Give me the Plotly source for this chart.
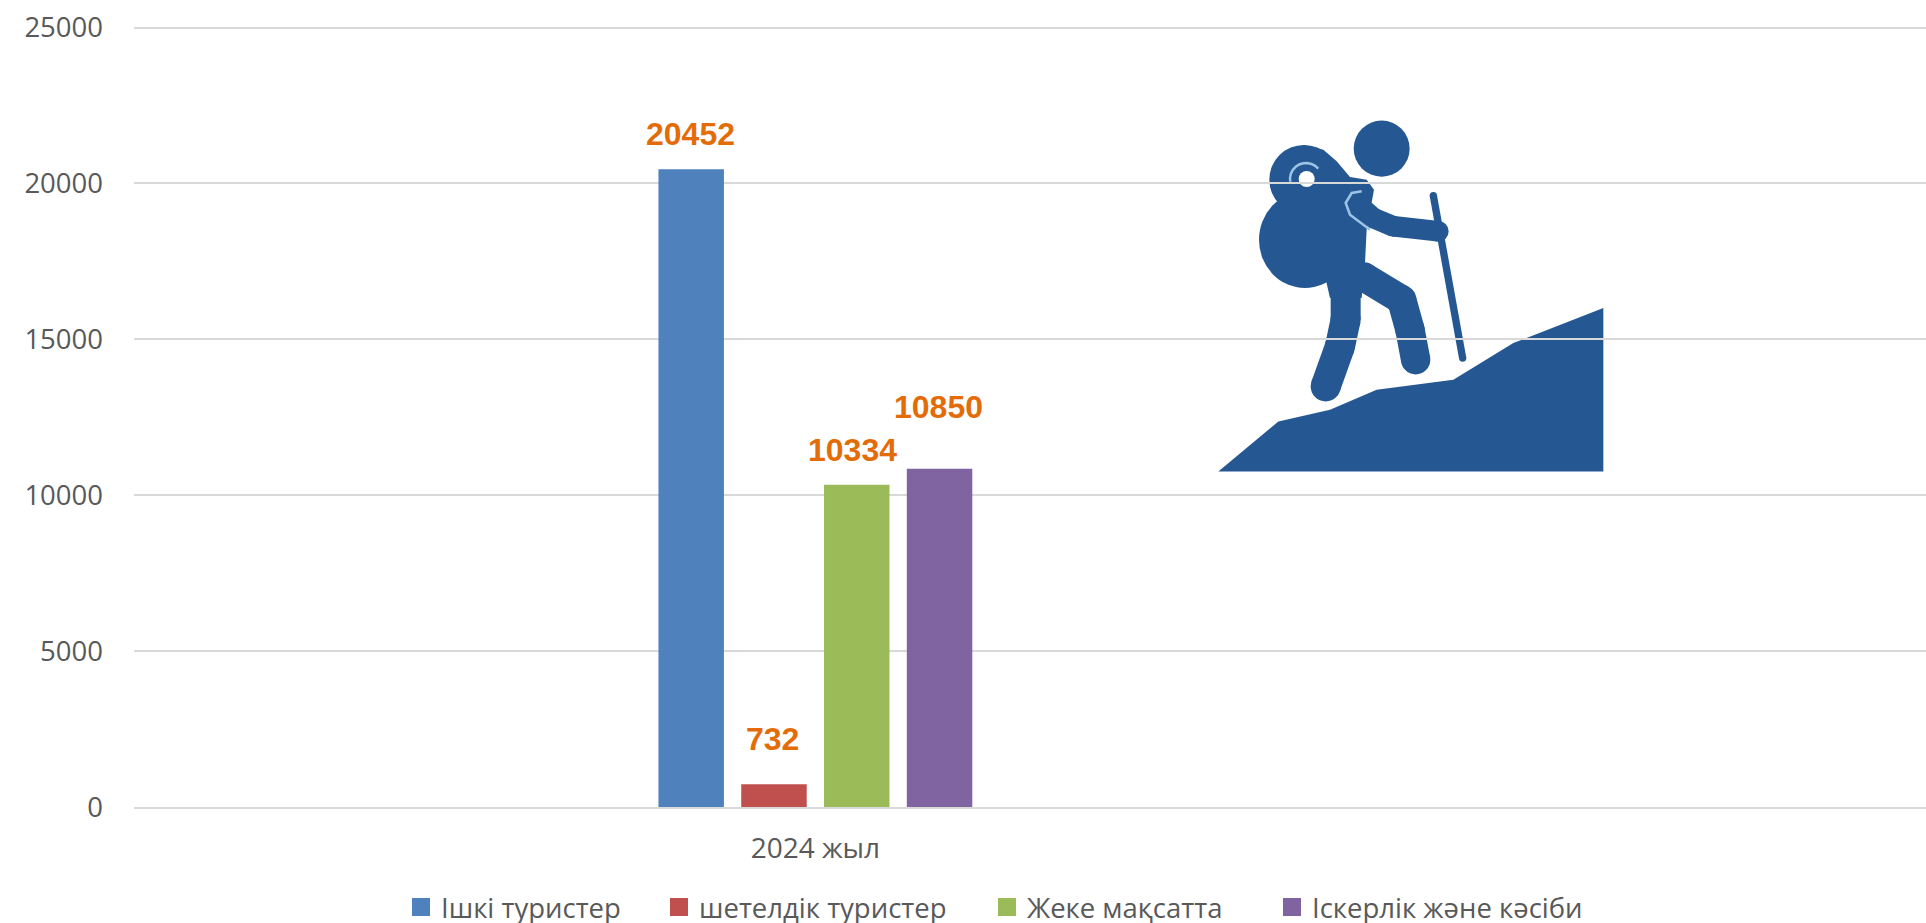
import math
import plotly.graph_objects as go

categories = ["2024 жыл"]
series_names = ["Ішкі туристер", "шетелдік туристер", "Жеке мақсатта", "Іскерлік және кәсіби"]
series_values = [20452, 732, 10334, 10850]
series_colors = ["#4F81BD", "#C0504D", "#9BBB59", "#8064A2"]
label_shifts = [(-125, 35), (-43, 45), (37, 35), (123, 62)]
y_ticks = [0, 5000, 10000, 15000, 20000, 25000]
legend_text_starts = [441, 699, 1027, 1312]

W, H = 1926, 923
L, R, T, B = 134, 0, 26.44, 116
PW, PH = W - L - R, H - T - B
ICON = "#255892"
LIGHT = "#9DC3E6"
TXT = "#595959"
FONT = "Open Sans"
BOLD = "Liberation Sans"


def px(zx, zy):
    """Crop coordinates of the pictogram to paper coordinates."""
    return ((1180 + zx / 3 - L) / PW, (H - B - (90 + zy / 3)) / PH)


def path_of(points):
    d = ""
    for i, (x, y) in enumerate(points):
        a, b = px(x, y)
        d += f"{'M' if i == 0 else 'L'}{a:.5f},{b:.5f} "
    return d


def poly(points, fill=ICON):
    return dict(type="path", path=path_of(points) + "Z", xref="paper", yref="paper", layer="below",
                fillcolor=fill, line=dict(width=0))


def outline(points, color=LIGHT, lw=2.5):
    return dict(type="path", path=path_of(points), xref="paper", yref="paper", layer="below",
                line=dict(width=lw, color=color))


def circle(cx, cy, rx, ry=None, fill=ICON):
    ry = rx if ry is None else ry
    x0, y0 = px(cx - rx, cy + ry)
    x1, y1 = px(cx + rx, cy - ry)
    return dict(type="circle", xref="paper", yref="paper", layer="below", x0=x0, y0=y0, x1=x1, y1=y1,
                fillcolor=fill, line=dict(width=0))


def stroke(points, w):
    out = []
    for (x0, y0), (x1, y1) in zip(points, points[1:]):
        n = math.hypot(x1 - x0, y1 - y0)
        ox, oy = -(y1 - y0) / n * w / 2, (x1 - x0) / n * w / 2
        out.append(poly([(x0 + ox, y0 + oy), (x1 + ox, y1 + oy), (x1 - ox, y1 - oy), (x0 - ox, y0 - oy)]))
    out += [circle(x, y, w / 2) for x, y in points]
    return out


arc = [(378 + 48 * math.cos(math.radians(a)), 268 - 48 * math.sin(math.radians(a))) for a in range(40, 205, 15)]

icon = [poly([(115, 1145), (295, 995), (450, 960), (590, 900), (820, 870), (1000, 760), (1270, 655), (1270, 1145)])]
icon += [circle(605, 177, 84), circle(375, 450, 138, 145), circle(372, 270, 104)]
icon += [poly([(370, 166), (430, 180), (470, 215), (510, 262), (560, 270), (582, 300), (560, 420), (555, 520),
               (545, 625), (450, 625), (410, 450), (340, 330)])]
icon += stroke([(497, 600), (497, 690), (480, 770), (437, 890)], 90)
icon += stroke([(552, 562), (665, 630), (690, 720), (707, 810)], 88)
icon += [outline(arc), circle(380, 268, 24, fill="#FFFFFF")]
icon += stroke([(535, 345), (580, 385), (640, 410), (775, 425)], 62)
icon += [outline([(545, 305), (515, 310), (497, 340), (510, 375), (570, 420)])]
icon += stroke([(760, 318), (848, 805)], 22)

fig = go.Figure()
for name, value, color in zip(series_names, series_values, series_colors):
    fig.add_bar(name=name, x=categories, y=[value], marker=dict(color=color, line=dict(width=0)), showlegend=False)

# Each legend entry has its own legend so the unequal gaps of the reference can be kept.
legends = {}
for i, (name, color, start) in enumerate(zip(series_names, series_colors, legend_text_starts)):
    key = "legend" if i == 0 else f"legend{i + 1}"
    fig.add_scatter(name=name, x=[None], y=[None], mode="markers", legend=key, showlegend=True,
                    marker=dict(symbol="square", size=16, color=color, line=dict(width=2, color=color)))
    legends[key] = dict(x=(start - 40 - L) / PW, y=(H - B - 907) / PH,
                        xanchor="left", yanchor="middle", itemwidth=30, bgcolor="rgba(0,0,0,0)",
                        font=dict(family=FONT, size=27.5, color=TXT))

annotations = [
    dict(x=0, y=v, xref="x", yref="y", text=str(v), showarrow=False, xshift=dx, yshift=dy,
         yanchor="middle", font=dict(family=BOLD, size=32, color="#E36C09", weight=700))
    for v, (dx, dy) in zip(series_values, label_shifts)
]

fig.update_layout(
    width=W, height=H, margin=dict(l=L, r=R, t=T, b=B, pad=0, autoexpand=False),
    paper_bgcolor="#FFFFFF", plot_bgcolor="#FFFFFF",
    barmode="group", bargap=0.757, bargroupgap=0.209,
    font=dict(family=FONT, size=26, color=TXT),
    shapes=icon, annotations=annotations,
    xaxis=dict(type="category", range=[-0.5, 0.815], showgrid=False, showline=True, linecolor="#D9D9D9",
               linewidth=2, ticks="", tickfont=dict(family=FONT, size=28, color=TXT), ticklabelstandoff=15),
    yaxis=dict(range=[0, 25050], tickvals=y_ticks, tickformat="d", showgrid=True, gridcolor="#D9D9D9",
               gridwidth=2, zeroline=False, showline=False, ticks="",
               tickfont=dict(family=FONT, size=27.5, color=TXT), ticklabelstandoff=30),
    **legends,
)

fig.write_html("out.html", config={"displayModeBar": False},
               post_script="document.body.style.margin='0';document.body.style.overflow='hidden';")
